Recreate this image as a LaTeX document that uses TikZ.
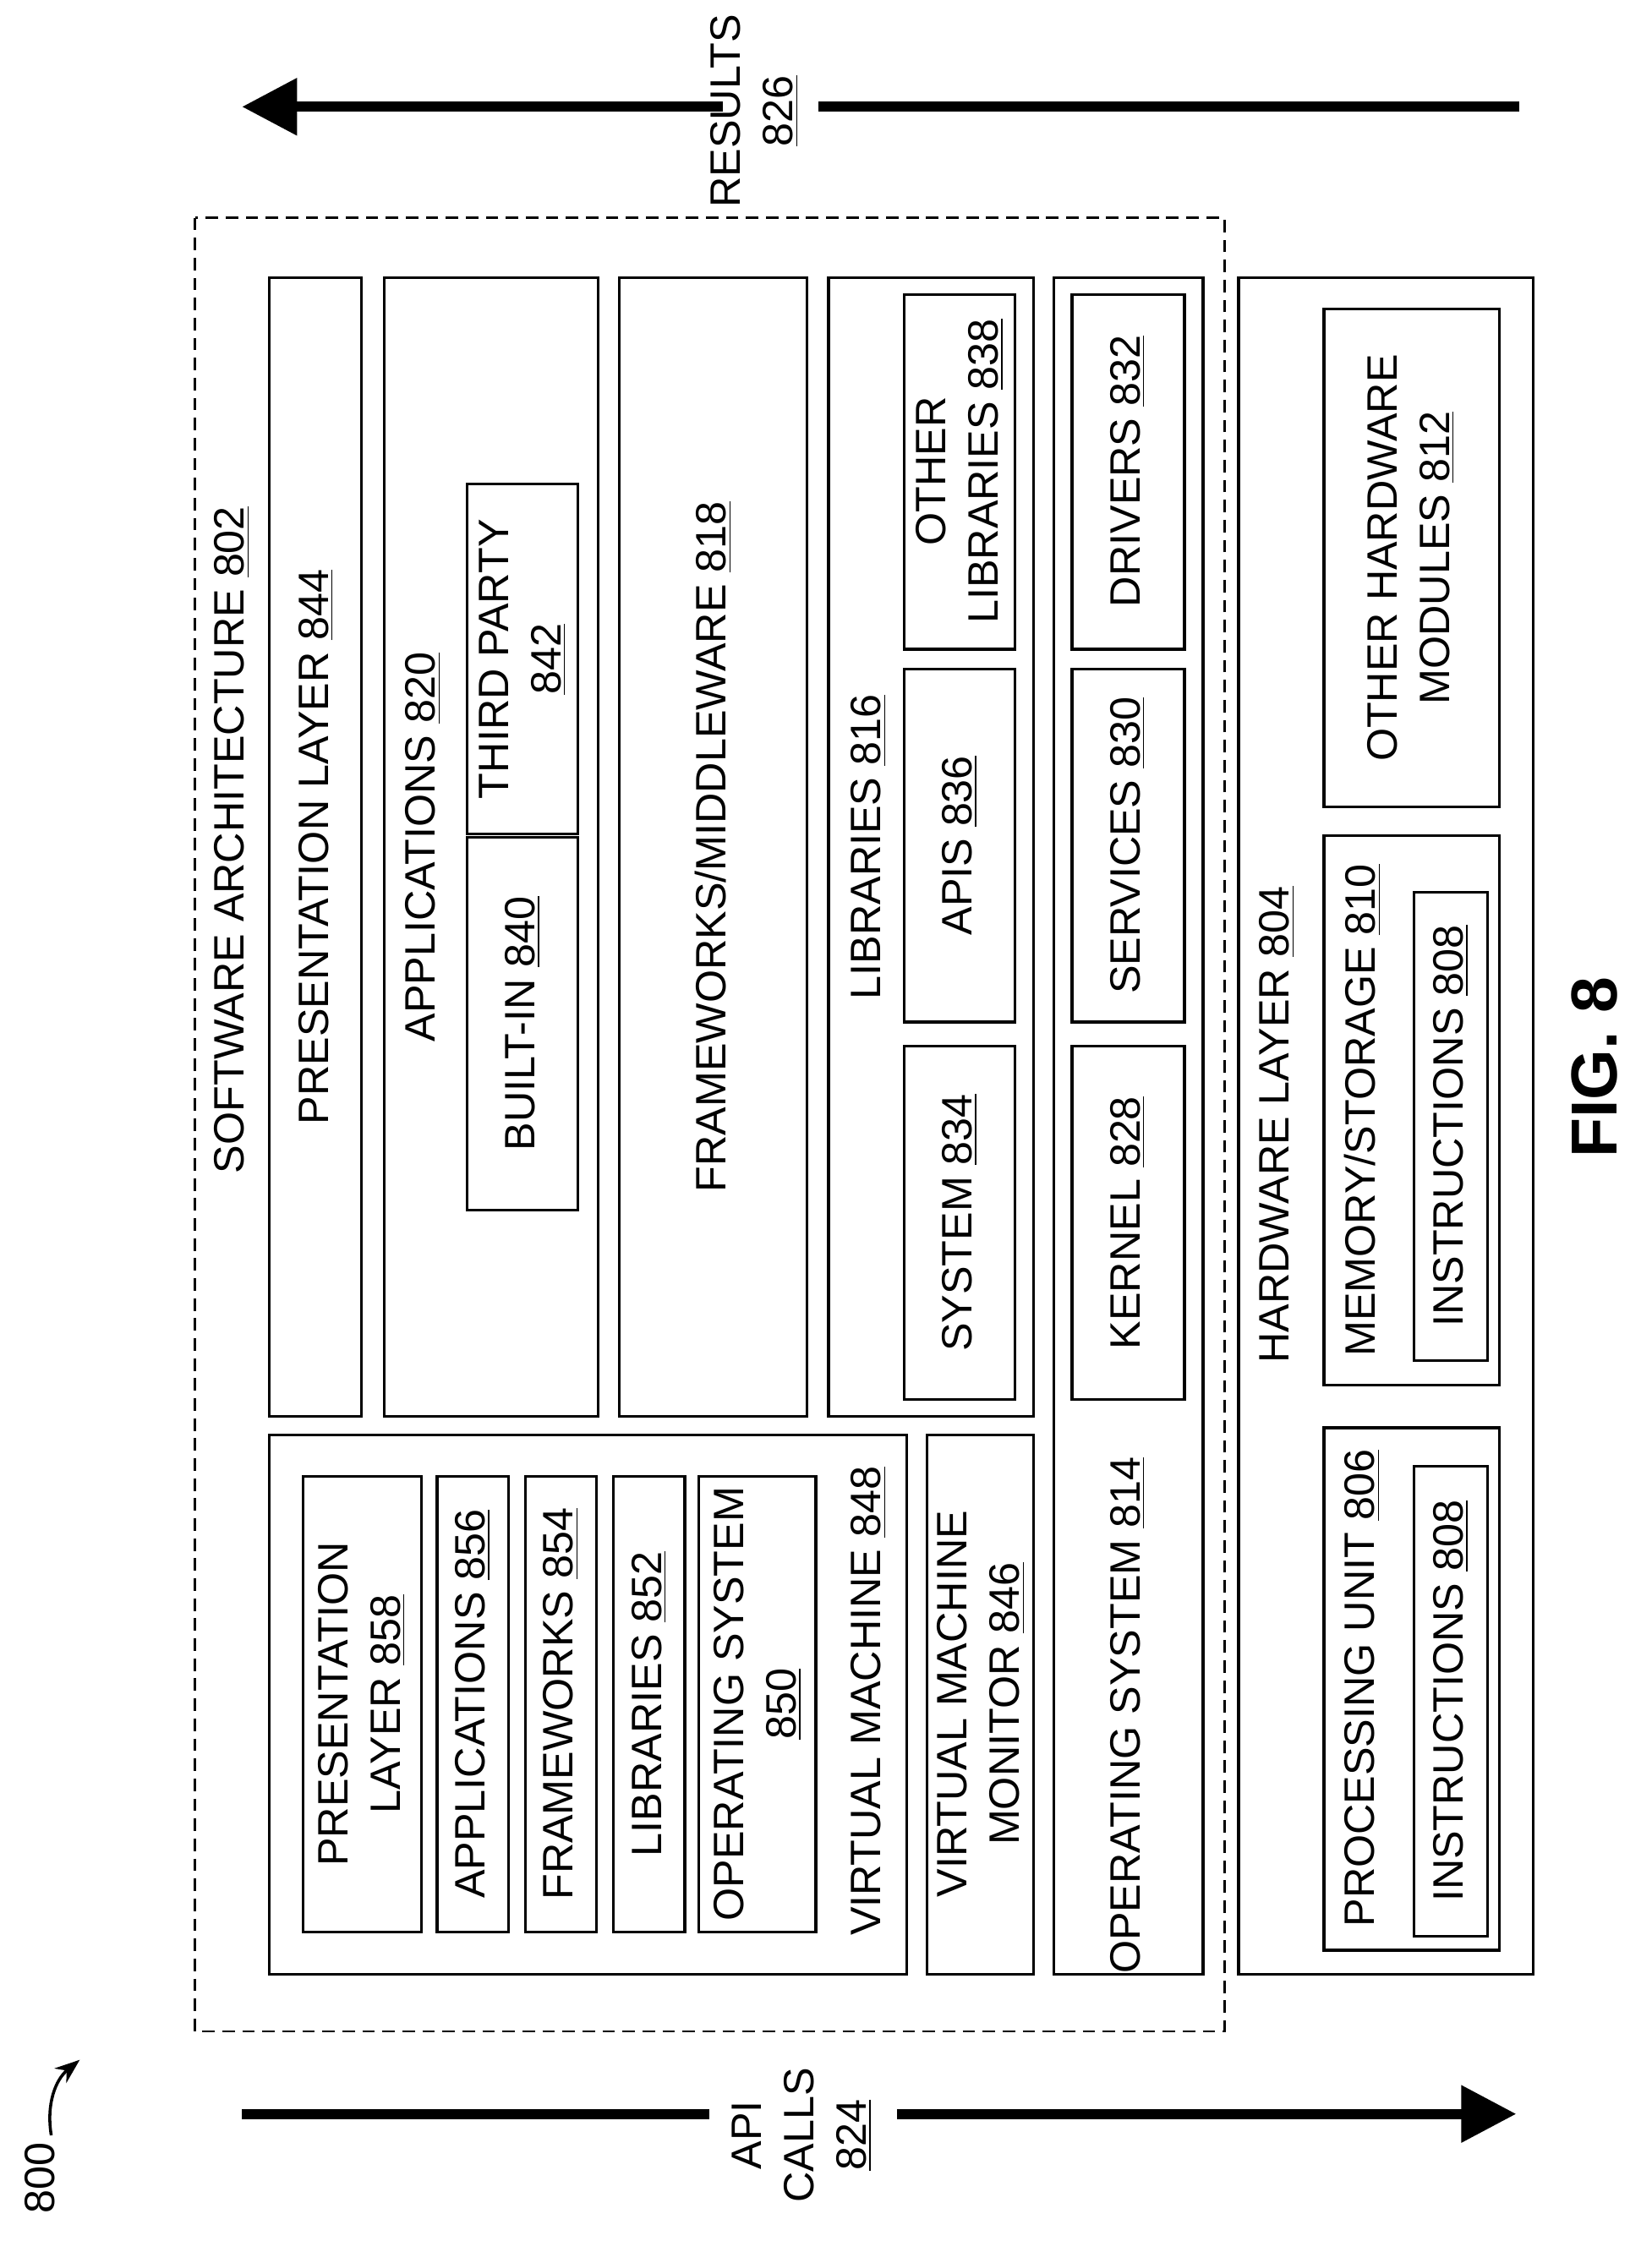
\documentclass[tikz,border=0pt]{standalone}
\usepackage{fontspec}
\setmainfont{Liberation Sans}
\usetikzlibrary{arrows.meta}
\newcommand{\ul}[1]{\underline{#1}}
\tikzset{
    box/.style={draw, line width=1.1pt},
    lbl/.style={rotate=90, font=\fontsize{17}{21}\selectfont, align=center, inner sep=1pt},
    bigarrow/.style={line width=4pt, -{Triangle[length=22pt,width=22pt]}}
}
\begin{document}
\begin{tikzpicture}[x=0.02cm, y=-0.02cm]
    \useasboundingbox (0,0) rectangle (1160,1582);
    % software architecture
    \draw[line width=1pt, dash pattern=on 5pt off 3pt] (137,153) rectangle (860,1427);
    \node[lbl] (sa) at (163,590) {SOFTWARE ARCHITECTURE \ul{802}};
    \draw[box] (189,195) rectangle (254,995);
    \node[lbl] (pl) at (222,595) {PRESENTATION LAYER \ul{844}};
    \draw[box] (270,195) rectangle (420,995);
    \node[lbl] (app) at (297,595) {APPLICATIONS \ul{820}};
    \draw[box] (328,588) rectangle (406,850);
    \node[lbl] (bi) at (367,719) {BUILT-IN \ul{840}};
    \draw[box] (328,340) rectangle (406,586);
    \node[lbl] (tp) at (367,463) {THIRD PARTY\\\ul{842}};
    \draw[box] (435,195) rectangle (567,995);
    \node[lbl] (fw) at (501,595) {FRAMEWORKS/MIDDLEWARE \ul{818}};
    \draw[box] (582,195) rectangle (726,995);
    \node[lbl] (lib) at (610,595) {LIBRARIES \ul{816}};
    \draw[box] (635,735) rectangle (713,983);
    \node[lbl] (sys) at (674,859) {SYSTEM \ul{834}};
    \draw[box] (635,470) rectangle (713,718);
    \node[lbl] (apis) at (674,594) {APIS \ul{836}};
    \draw[box] (635,207) rectangle (713,456);
    \node[lbl] (ol) at (674,331) {OTHER\\LIBRARIES \ul{838}};
    \draw[box] (740,195) rectangle (845,1387);
    \node[lbl] (os) at (792,1205) {OPERATING SYSTEM \ul{814}};
    \draw[box] (753,735) rectangle (832,983);
    \node[lbl] (ker) at (792,859) {KERNEL \ul{828}};
    \draw[box] (753,470) rectangle (832,718);
    \node[lbl] (srv) at (792,594) {SERVICES \ul{830}};
    \draw[box] (753,207) rectangle (832,456);
    \node[lbl] (drv) at (792,331) {DRIVERS \ul{832}};
    % virtual machine
    \draw[box] (189,1008) rectangle (637,1387);
    \node[lbl] (vm) at (610,1195) {VIRTUAL MACHINE \ul{848}};
    \draw[box] (213,1037) rectangle (296,1357);
    \node[lbl] (vpl) at (254,1197) {PRESENTATION\\LAYER \ul{858}};
    \draw[box] (307,1037) rectangle (357,1357);
    \node[lbl] (vapp) at (332,1197) {APPLICATIONS \ul{856}};
    \draw[box] (369,1037) rectangle (419,1357);
    \node[lbl] (vfw) at (394,1197) {FRAMEWORKS \ul{854}};
    \draw[box] (431,1037) rectangle (481,1357);
    \node[lbl] (vlib) at (456,1197) {LIBRARIES \ul{852}};
    \draw[box] (491,1037) rectangle (573,1357);
    \node[lbl] (vos) at (532,1197) {OPERATING SYSTEM\\\ul{850}};
    \draw[box] (651,1008) rectangle (726,1387);
    \node[lbl] (vmm) at (689,1197) {VIRTUAL MACHINE\\MONITOR \ul{846}};
    % hardware
    \draw[box] (870,195) rectangle (1077,1387);
    \node[lbl] (hw) at (897,790) {HARDWARE LAYER \ul{804}};
    \draw[box] (930,587) rectangle (1053,973);
    \node[lbl] (mem) at (957,780) {MEMORY/STORAGE \ul{810}};
    \draw[box] (993,627) rectangle (1045,956);
    \node[lbl] (ins1) at (1019,791) {INSTRUCTIONS \ul{808}};
    \draw[box] (930,1003) rectangle (1053,1370);
    \node[lbl] (pu) at (957,1186) {PROCESSING UNIT \ul{806}};
    \draw[box] (993,1030) rectangle (1045,1360);
    \node[lbl] (ins2) at (1019,1195) {INSTRUCTIONS \ul{808}};
    \draw[box] (930,217) rectangle (1053,567);
    \node[lbl] (ohm) at (991,392) {OTHER HARDWARE\\MODULES \ul{812}};
    % arrows
    \node[lbl] (res) at (530,78) {RESULTS\\\ul{826}};
    \coordinate (rs) at (1067,75);
    \coordinate (re) at (170,75);
    \draw[line width=4pt] (rs) -- (575,75);
    \draw[bigarrow] (508,75) -- (re);
    \node[lbl] (api) at (563,1500) {API\\CALLS\\\ul{824}};
    \coordinate (as) at (170,1485);
    \coordinate (ae) at (1065,1485);
    \draw[line width=4pt] (as) -- (498,1485);
    \draw[bigarrow] (630,1485) -- (ae);
    \node[lbl] (num) at (28,1530) {800};
    \draw[line width=1.2pt, -{Stealth[length=10pt]}] (36,1500) to[bend left=30] (56,1447);
    \node[lbl, font=\fontsize{26}{30}\selectfont\bfseries] (fig) at (1120,750) {FIG. 8};
\end{tikzpicture}
\end{document}
